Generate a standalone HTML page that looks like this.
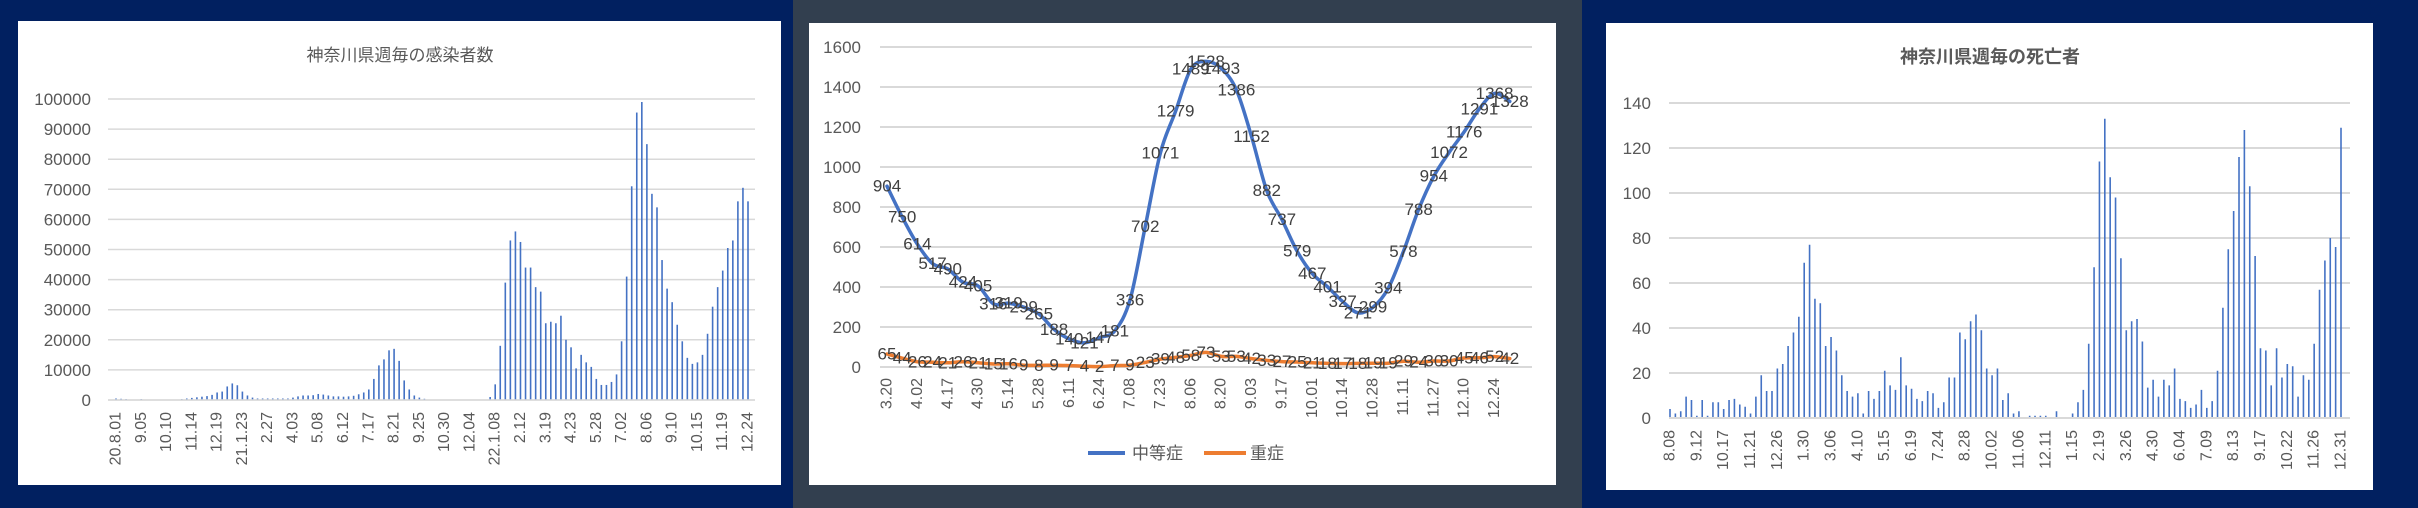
<!DOCTYPE html>
<html><head><meta charset="utf-8"><style>
html,body{margin:0;padding:0;background:#012060;}
svg{display:block;}
text{font-family:"Liberation Sans","Noto Sans CJK JP",sans-serif;fill:#595959;}
</style></head><body>
<svg id="s" width="2418" height="508" xmlns="http://www.w3.org/2000/svg">
<rect x="0" y="0" width="2418" height="508" fill="#012060"/>
<rect x="793" y="0" width="789" height="508" fill="#323f4f"/>
<rect x="18" y="21" width="763" height="464" fill="#fff"/>
<rect x="809" y="23" width="747" height="462" fill="#fff"/>
<rect x="1606" y="23" width="767" height="467" fill="#fff"/>
<text x="400" y="61" font-size="17" text-anchor="middle">神奈川県週毎の感染者数</text>
<text x="1990" y="63" font-size="18" font-weight="bold" text-anchor="middle">神奈川県週毎の死亡者</text>
<g id="g"></g>
</svg>
<script>
var g=document.getElementById('g'),h='';
function T(x,y,s,sz,a,extra){h+='<text x="'+x+'" y="'+y+'" font-size="'+sz+'" text-anchor="'+(a||'end')+'" '+(extra||'')+'>'+s+'</text>';}
function L(x1,y1,x2,y2,c,w){h+='<line x1="'+x1+'" y1="'+y1+'" x2="'+x2+'" y2="'+y2+'" stroke="'+c+'" stroke-width="'+w+'"/>';}
function RL(x,y,s,sz){h+='<text transform="translate('+x+','+y+') rotate(-90)" font-size="'+sz+'" text-anchor="end" dominant-baseline="central">'+s+'</text>';}
// Panel 1
var y0=400,y1=99;
for(var k=0;k<=10;k++){var y=y0-(y0-y1)*k/10;L(108,y,755,y,'#d9d9d9',1.5);T(91,y+6,k*10000,17);}
var v1=[500,400,300,0,0,300,0,0,0,0,0,0,0,300,500,700,900,1100,1300,1700,2500,2800,4500,5500,4900,2800,1500,800,500,500,500,500,500,500,500,800,1200,1500,1500,1600,2000,1800,1500,1200,1200,1100,1200,1400,1900,2500,3500,7000,11500,13500,16500,17000,13000,6500,3500,1500,800,400,0,0,0,0,0,0,0,0,0,0,0,0,1000,5200,18000,39000,53000,56000,52500,44000,44000,37500,36000,25500,26000,25500,28000,20000,17500,10500,15000,12500,11000,7000,5000,5000,6000,8500,19500,41000,71000,95500,99000,85000,68500,64000,46500,37000,32500,25000,19500,14000,12000,12500,15000,22000,31000,37500,43000,50500,53000,66000,70500,66000];
var l1=['20.8.01','9.05','10.10','11.14','12.19','21.1.23','2.27','4.03','5.08','6.12','7.17','8.21','9.25','10.30','12.04','22.1.08','2.12','3.19','4.23','5.28','7.02','8.06','9.10','10.15','11.19','12.24'];
var dx=(748-116)/125;
for(var i=0;i<v1.length;i++){var x=116+i*dx,hh=v1[i]/100000*(y0-y1);if(hh>0)h+='<rect x="'+(x-0.8)+'" y="'+(y0-hh)+'" width="1.6" height="'+hh+'" fill="#4472c4"/>';}
L(108,y0,755,y0,'#d9d9d9',1.5);
for(var j=0;j<l1.length;j++)RL(116+5*j*dx,412,l1[j],16);
// Panel 2
var b0=367,b1=47;
for(var k=0;k<=8;k++){var y=b0-(b0-b1)*k/8;L(880,y,1532,y,'#d9d9d9',2);T(861,y+6,k*200,17);}
var m=[904,750,614,517,490,424,405,316,319,299,265,188,140,121,147,181,336,702,1071,1279,1489,1528,1493,1386,1152,882,737,579,467,401,327,271,299,394,578,788,954,1072,1176,1291,1368,1328];
var s=[65,44,26,24,21,26,21,15,16,9,8,9,7,4,2,7,9,23,39,48,58,73,53,53,42,33,27,25,21,18,17,18,19,19,29,24,30,30,45,46,52,42];
var l2=['3.20','4.02','4.17','4.30','5.14','5.28','6.11','6.24','7.08','7.23','8.06','8.20','9.03','9.17','10.01','10.14','10.28','11.11','11.27','12.10','12.24'];
var px=function(i){return 887+i*15.19;},py=function(v){return b0-v/1600*(b0-b1);};
function path(a,c){var p=a.map(function(v,i){return [px(i),py(v)];});var d='M'+p[0][0]+','+p[0][1];
for(var i=0;i<p.length-1;i++){var p0=p[Math.max(i-1,0)],p1=p[i],p2=p[i+1],p3=p[Math.min(i+2,p.length-1)];
d+=' C'+(p1[0]+(p2[0]-p0[0])/6)+','+(p1[1]+(p2[1]-p0[1])/6)+' '+(p2[0]-(p3[0]-p1[0])/6)+','+(p2[1]-(p3[1]-p1[1])/6)+' '+p2[0]+','+p2[1];}
h+='<path d="'+d+'" fill="none" stroke="'+c+'" stroke-width="3.5" stroke-linecap="round"/>';}
path(m,'#4472c4');path(s,'#ed7d31');
for(var i=0;i<42;i++){T(px(i),py(m[i]),m[i],17,'middle','dominant-baseline="central" style="fill:#404040"');T(px(i),py(s[i]),s[i],17,'middle','dominant-baseline="central" style="fill:#404040"');}
for(var j=0;j<l2.length;j++)RL(px(2*j),378,l2[j],16);
L(1088,453,1125,453,'#4472c4',4);T(1132,459,'中等症',17,'start');
L(1204,453,1246,453,'#ed7d31',4);T(1250,459,'重症',17,'start');
// Panel 3
var c0=418,c1=103;
for(var k=0;k<=7;k++){var y=c0-(c0-c1)*k/7;L(1669,y,2350,y,'#d9d9d9',2);T(1651,y+6,k*20,17);}
var v3=[4,2,3,9.5,8,1,8,1,7,7,4,8,8.5,6,5,2,9.5,19,12,12,22,24,32,38,45,69,77,53,51,32,36,30,19,12,9.5,11,2,12,8.5,12,21,14.5,12.5,27,14.5,13,8.5,7.5,12,11,4.5,7,18,18,38,35,43,46,39,22,19,22,8,11,2,3,0,1,1,1,1,0,3,0,0,2,7,12.5,33,67,114,133,107,98,71,39,43,44,34,13.5,17,9.5,17,14.5,22,8.5,7.5,4.5,6,12.5,4.5,7.5,21,49,75,92,116,128,103,72,31,30,14.5,31,18,24,23,9.5,19,17,33,57,70,80,76,129];
var l3=['8.08','9.12','10.17','11.21','12.26','1.30','3.06','4.10','5.15','6.19','7.24','8.28','10.02','11.06','12.11','1.15','2.19','3.26','4.30','6.04','7.09','8.13','9.17','10.22','11.26','12.31'];
var ex=(2341-1670)/125;
for(var i=0;i<v3.length;i++){var x=1670+i*ex,hh=v3[i]/140*(c0-c1);if(hh>0)h+='<rect x="'+(x-0.8)+'" y="'+(c0-hh)+'" width="1.6" height="'+hh+'" fill="#4472c4"/>';}
L(1669,c0,2350,c0,'#d9d9d9',2);
for(var j=0;j<l3.length;j++)RL(1670+5*j*ex,430,l3[j],16);
g.innerHTML=h;
</script>
</body></html>
